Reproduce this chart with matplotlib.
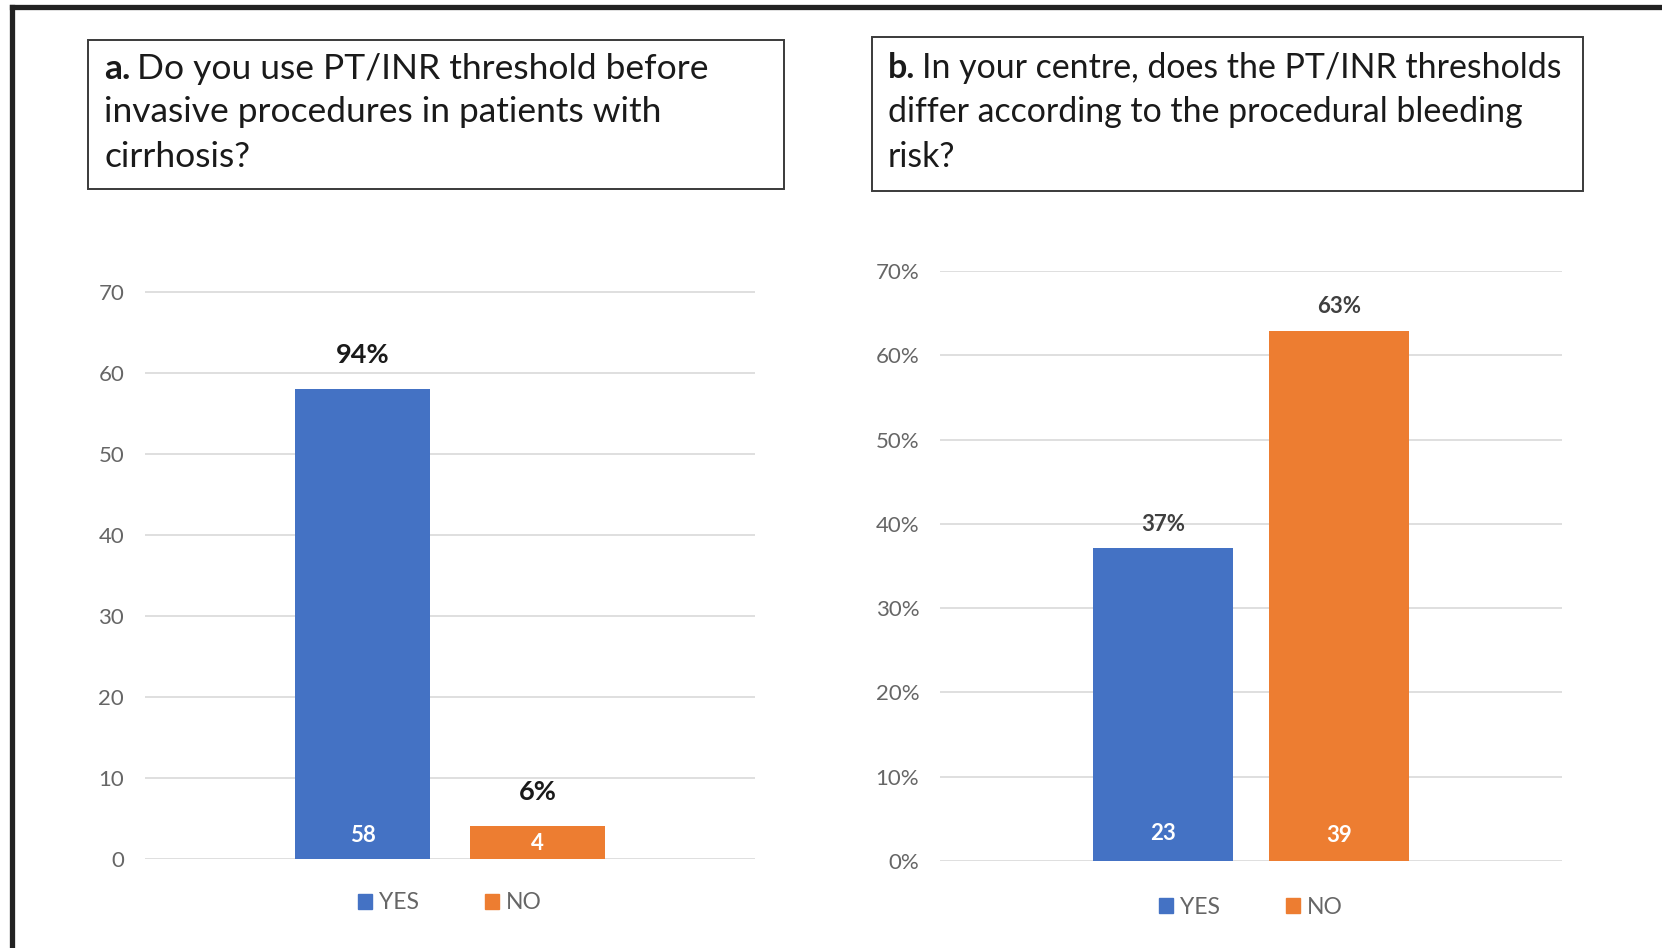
import matplotlib.pyplot as plt
from matplotlib.patches import Rectangle, Patch
from matplotlib.lines import Line2D

plt.rcParams['font.family'] = ['Lato', 'DejaVu Sans']

W, H = 1662, 948

answers = ['YES', 'NO']
colors = ['#4472C4', '#ED7D31']

counts_a = [58, 4]
counts_b = [23, 39]

title_a = ['Do you use PT/INR threshold before',
           'invasive procedures in patients with',
           'cirrhosis?']
title_b = ['In your centre, does the PT/INR thresholds',
           'differ according to the procedural bleeding',
           'risk?']

yticks_a = [0, 10, 20, 30, 40, 50, 60, 70]
yticks_b = [0, 0.1, 0.2, 0.3, 0.4, 0.5, 0.6, 0.7]

fig = plt.figure(figsize=(W / 100, H / 100), dpi=100)
fig.patch.set_facecolor('white')


def px(x, y):
    return x / W, 1 - y / H


# outer frame (only top and left edges visible)
fig.add_artist(Line2D([12 / W, 1], [1 - 6.7 / H, 1 - 6.7 / H], color='#222222', lw=3.8,
                      transform=fig.transFigure))
fig.add_artist(Line2D([12 / W, 12 / W], [0, 1 - 6.7 / H], color='#222222', lw=3.8,
                      transform=fig.transFigure))


def title_box(x0, y0, x1, y1, tx, ys, letter, lines, size):
    fig.add_artist(Rectangle(px(x0, y1), (x1 - x0) / W, (y1 - y0) / H, fill=False,
                             edgecolor='#3a3a3a', lw=1.4, transform=fig.transFigure))
    r = fig.canvas.get_renderer()
    t = fig.text(*px(tx, ys[0]), letter, fontsize=size, fontweight='bold', va='center',
                 color='#1a1a1a')
    w = t.get_window_extent(r).width
    fig.text(*px(tx + w + 7, ys[0]), lines[0], fontsize=size, va='center', color='#1a1a1a')
    for line, y in zip(lines[1:], ys[1:]):
        fig.text(*px(tx, y), line, fontsize=size, va='center', color='#1a1a1a')


title_box(88, 40, 784, 189, 104, [69, 112, 157], 'a.', title_a, 25.5)
title_box(872, 37, 1583, 191, 888, [68, 112, 157], 'b.', title_b, 24.4)


def panel(rect, values, ylim, yticks, ticklabels, offset, width, pct_size, pct_pad,
          in_pad, pct_color):
    ax = fig.add_axes(rect)
    total = sum(values)
    heights = values if ylim > 1 else [v / total for v in values]
    xs = [-offset, offset]
    bars = ax.bar(xs, heights, width=width, color=colors, zorder=3)
    ax.set_xlim(-0.5, 0.5)
    ax.set_ylim(0, ylim)
    ax.set_yticks(yticks)
    ax.set_yticklabels(ticklabels)
    ax.set_xticks([])
    ax.grid(axis='y', color='#d9d9d9', lw=1.2, zorder=0)
    for s in ax.spines.values():
        s.set_visible(False)
    ax.tick_params(axis='y', length=0, pad=15, labelsize=16, labelcolor='#666666')
    for b, v, h in zip(bars, values, heights):
        pct = round(v / total * 100)
        ax.annotate(f'{pct}%', (b.get_x() + b.get_width() / 2, h), xytext=(0, pct_pad),
                    textcoords='offset pixels', ha='center', va='center',
                    fontsize=pct_size, fontweight='bold', color=pct_color)
    for b, v, p in zip(bars, values, in_pad):
        ax.annotate(str(v), (b.get_x() + b.get_width() / 2, 0), xytext=(0, p),
                    textcoords='offset pixels', ha='center', va='center',
                    fontsize=16, fontweight='bold', color='white')
    handles = [Patch(color=c, label=a) for c, a in zip(colors, answers)]
    ax.legend(handles=handles, loc='center', bbox_to_anchor=(0.5, -0.078), ncol=2,
              frameon=False, fontsize=16.5, handlelength=0.6, handleheight=0.6,
              handletextpad=0.3, columnspacing=2.9, labelcolor='#666666')
    return ax


x0, y0 = px(145, 858.6)
x1, y1 = px(755, 291.5)
panel([x0, y0, x1 - x0, y1 - y0], counts_a, 70, yticks_a, [str(t) for t in yticks_a],
      0.1434, 0.221, 19.5, 34, [23, 15], '#1a1a1a')

x0, y0 = px(940, 861)
x1, y1 = px(1562, 271)
panel([x0, y0, x1 - x0, y1 - y0], counts_b, 0.7, yticks_b,
      [f'{round(t * 100)}%' for t in yticks_b],
      0.1415, 0.225, 16, 24, [27, 26], '#404040')

fig.savefig('out.png', dpi=100)
